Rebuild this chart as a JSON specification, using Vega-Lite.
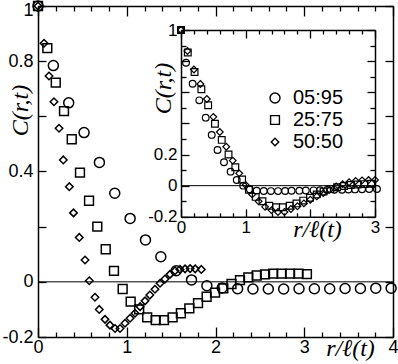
{
  "$schema": "https://vega.github.io/schema/vega-lite/v6.json",
  "width": 355,
  "height": 331,
  "autosize": {"type": "none"},
  "padding": {"left": 38, "top": 6, "right": 5, "bottom": 27},
  "background": "white",
  "config": {"view": {"stroke": null}, "axis": {"grid": false, "labelFlush": false, "labelOverlap": false, "domainColor": "black", "tickColor": "black", "labelColor": "black", "titleColor": "black", "domainWidth": 1.5, "tickWidth": 1.3, "labelFont": "Liberation Sans", "titleFont": "Liberation Serif", "titleFontStyle": "italic", "titleFontWeight": "normal"}},
  "datasets": {
    "main": [
      {"series": "05:95", "x": 0, "y": 1},
      {"series": "05:95", "x": 0.173, "y": 0.784},
      {"series": "05:95", "x": 0.346, "y": 0.649},
      {"series": "05:95", "x": 0.519, "y": 0.541},
      {"series": "05:95", "x": 0.692, "y": 0.433},
      {"series": "05:95", "x": 0.865, "y": 0.321},
      {"series": "05:95", "x": 1.038, "y": 0.23},
      {"series": "05:95", "x": 1.211, "y": 0.152},
      {"series": "05:95", "x": 1.384, "y": 0.091},
      {"series": "05:95", "x": 1.557, "y": 0.04},
      {"series": "05:95", "x": 1.73, "y": 0.007},
      {"series": "05:95", "x": 1.903, "y": -0.014},
      {"series": "05:95", "x": 2.076, "y": -0.022},
      {"series": "05:95", "x": 2.249, "y": -0.025},
      {"series": "05:95", "x": 2.422, "y": -0.026},
      {"series": "05:95", "x": 2.595, "y": -0.026},
      {"series": "05:95", "x": 2.768, "y": -0.026},
      {"series": "05:95", "x": 2.941, "y": -0.025},
      {"series": "05:95", "x": 3.114, "y": -0.025},
      {"series": "05:95", "x": 3.287, "y": -0.025},
      {"series": "05:95", "x": 3.46, "y": -0.024},
      {"series": "05:95", "x": 3.633, "y": -0.024},
      {"series": "05:95", "x": 3.806, "y": -0.023},
      {"series": "05:95", "x": 3.979, "y": -0.023},
      {"series": "25:75", "x": 0, "y": 1},
      {"series": "25:75", "x": 0.105, "y": 0.847},
      {"series": "25:75", "x": 0.2, "y": 0.722},
      {"series": "25:75", "x": 0.293, "y": 0.619},
      {"series": "25:75", "x": 0.38, "y": 0.517},
      {"series": "25:75", "x": 0.473, "y": 0.396},
      {"series": "25:75", "x": 0.575, "y": 0.294},
      {"series": "25:75", "x": 0.668, "y": 0.2},
      {"series": "25:75", "x": 0.763, "y": 0.118},
      {"series": "25:75", "x": 0.856, "y": 0.04},
      {"series": "25:75", "x": 0.954, "y": -0.026},
      {"series": "25:75", "x": 1.044, "y": -0.072},
      {"series": "25:75", "x": 1.14, "y": -0.1},
      {"series": "25:75", "x": 1.23, "y": -0.129},
      {"series": "25:75", "x": 1.326, "y": -0.139},
      {"series": "25:75", "x": 1.42, "y": -0.139},
      {"series": "25:75", "x": 1.517, "y": -0.129},
      {"series": "25:75", "x": 1.61, "y": -0.114},
      {"series": "25:75", "x": 1.705, "y": -0.096},
      {"series": "25:75", "x": 1.803, "y": -0.077},
      {"series": "25:75", "x": 1.9, "y": -0.054},
      {"series": "25:75", "x": 1.995, "y": -0.039},
      {"series": "25:75", "x": 2.088, "y": -0.024},
      {"series": "25:75", "x": 2.18, "y": -0.008},
      {"series": "25:75", "x": 2.276, "y": 0.006},
      {"series": "25:75", "x": 2.37, "y": 0.016},
      {"series": "25:75", "x": 2.464, "y": 0.023},
      {"series": "25:75", "x": 2.558, "y": 0.027},
      {"series": "25:75", "x": 2.65, "y": 0.03},
      {"series": "25:75", "x": 2.745, "y": 0.03},
      {"series": "25:75", "x": 2.84, "y": 0.03},
      {"series": "25:75", "x": 2.935, "y": 0.03},
      {"series": "25:75", "x": 3.03, "y": 0.028},
      {"series": "50:50", "x": 0, "y": 1},
      {"series": "50:50", "x": 0.068, "y": 0.865},
      {"series": "50:50", "x": 0.124, "y": 0.746},
      {"series": "50:50", "x": 0.18, "y": 0.653},
      {"series": "50:50", "x": 0.237, "y": 0.557},
      {"series": "50:50", "x": 0.285, "y": 0.442},
      {"series": "50:50", "x": 0.353, "y": 0.345},
      {"series": "50:50", "x": 0.4, "y": 0.25},
      {"series": "50:50", "x": 0.465, "y": 0.161},
      {"series": "50:50", "x": 0.53, "y": 0.079},
      {"series": "50:50", "x": 0.578, "y": 0.004},
      {"series": "50:50", "x": 0.642, "y": -0.056},
      {"series": "50:50", "x": 0.69, "y": -0.1},
      {"series": "50:50", "x": 0.755, "y": -0.136},
      {"series": "50:50", "x": 0.811, "y": -0.157},
      {"series": "50:50", "x": 0.868, "y": -0.169},
      {"series": "50:50", "x": 0.924, "y": -0.169},
      {"series": "50:50", "x": 0.98, "y": -0.15},
      {"series": "50:50", "x": 1.037, "y": -0.132},
      {"series": "50:50", "x": 1.093, "y": -0.114},
      {"series": "50:50", "x": 1.15, "y": -0.09},
      {"series": "50:50", "x": 1.206, "y": -0.069},
      {"series": "50:50", "x": 1.26, "y": -0.048},
      {"series": "50:50", "x": 1.318, "y": -0.027},
      {"series": "50:50", "x": 1.375, "y": -0.005},
      {"series": "50:50", "x": 1.43, "y": 0.01},
      {"series": "50:50", "x": 1.487, "y": 0.027},
      {"series": "50:50", "x": 1.544, "y": 0.04},
      {"series": "50:50", "x": 1.6, "y": 0.045},
      {"series": "50:50", "x": 1.657, "y": 0.047},
      {"series": "50:50", "x": 1.714, "y": 0.048},
      {"series": "50:50", "x": 1.771, "y": 0.047},
      {"series": "50:50", "x": 1.84, "y": 0.045}
    ],
    "inset": [
      {"series": "05:95", "x": 0, "y": 1},
      {"series": "05:95", "x": 0.078, "y": 0.79},
      {"series": "05:95", "x": 0.18, "y": 0.655},
      {"series": "05:95", "x": 0.283, "y": 0.548},
      {"series": "05:95", "x": 0.382, "y": 0.437},
      {"series": "05:95", "x": 0.475, "y": 0.326},
      {"series": "05:95", "x": 0.565, "y": 0.229},
      {"series": "05:95", "x": 0.665, "y": 0.15},
      {"series": "05:95", "x": 0.767, "y": 0.09},
      {"series": "05:95", "x": 0.862, "y": 0.036},
      {"series": "05:95", "x": 0.962, "y": 0.0},
      {"series": "05:95", "x": 1.065, "y": -0.024},
      {"series": "05:95", "x": 1.17, "y": -0.032},
      {"series": "05:95", "x": 1.28, "y": -0.034},
      {"series": "05:95", "x": 1.39, "y": -0.035},
      {"series": "05:95", "x": 1.5, "y": -0.035},
      {"series": "05:95", "x": 1.61, "y": -0.034},
      {"series": "05:95", "x": 1.71, "y": -0.033},
      {"series": "05:95", "x": 1.83, "y": -0.032},
      {"series": "05:95", "x": 1.93, "y": -0.031},
      {"series": "05:95", "x": 2.05, "y": -0.03},
      {"series": "05:95", "x": 2.15, "y": -0.029},
      {"series": "05:95", "x": 2.26, "y": -0.028},
      {"series": "05:95", "x": 2.37, "y": -0.027},
      {"series": "05:95", "x": 2.49, "y": -0.026},
      {"series": "05:95", "x": 2.59, "y": -0.025},
      {"series": "05:95", "x": 2.69, "y": -0.024},
      {"series": "05:95", "x": 2.8, "y": -0.023},
      {"series": "05:95", "x": 2.91, "y": -0.022},
      {"series": "05:95", "x": 3.03, "y": -0.021},
      {"series": "25:75", "x": 0, "y": 1},
      {"series": "25:75", "x": 0.105, "y": 0.855},
      {"series": "25:75", "x": 0.21, "y": 0.73},
      {"series": "25:75", "x": 0.315, "y": 0.619},
      {"series": "25:75", "x": 0.42, "y": 0.517},
      {"series": "25:75", "x": 0.525, "y": 0.398},
      {"series": "25:75", "x": 0.63, "y": 0.294},
      {"series": "25:75", "x": 0.735, "y": 0.2},
      {"series": "25:75", "x": 0.84, "y": 0.118},
      {"series": "25:75", "x": 0.945, "y": 0.04},
      {"series": "25:75", "x": 1.05, "y": -0.026},
      {"series": "25:75", "x": 1.155, "y": -0.072},
      {"series": "25:75", "x": 1.26, "y": -0.1},
      {"series": "25:75", "x": 1.365, "y": -0.129},
      {"series": "25:75", "x": 1.47, "y": -0.139},
      {"series": "25:75", "x": 1.575, "y": -0.139},
      {"series": "25:75", "x": 1.68, "y": -0.129},
      {"series": "25:75", "x": 1.785, "y": -0.114},
      {"series": "25:75", "x": 1.89, "y": -0.096},
      {"series": "25:75", "x": 1.995, "y": -0.078},
      {"series": "25:75", "x": 2.1, "y": -0.056},
      {"series": "25:75", "x": 2.205, "y": -0.038},
      {"series": "25:75", "x": 2.31, "y": -0.022},
      {"series": "25:75", "x": 2.415, "y": -0.01},
      {"series": "25:75", "x": 2.52, "y": -0.002},
      {"series": "25:75", "x": 2.625, "y": 0.004},
      {"series": "25:75", "x": 2.73, "y": 0.008},
      {"series": "25:75", "x": 2.835, "y": 0.01},
      {"series": "25:75", "x": 2.94, "y": 0.012},
      {"series": "50:50", "x": 0, "y": 1},
      {"series": "50:50", "x": 0.1, "y": 0.865},
      {"series": "50:50", "x": 0.2, "y": 0.746},
      {"series": "50:50", "x": 0.3, "y": 0.653},
      {"series": "50:50", "x": 0.4, "y": 0.557},
      {"series": "50:50", "x": 0.5, "y": 0.442},
      {"series": "50:50", "x": 0.6, "y": 0.345},
      {"series": "50:50", "x": 0.7, "y": 0.25},
      {"series": "50:50", "x": 0.8, "y": 0.161},
      {"series": "50:50", "x": 0.9, "y": 0.079},
      {"series": "50:50", "x": 1.0, "y": 0.004},
      {"series": "50:50", "x": 1.1, "y": -0.056},
      {"series": "50:50", "x": 1.2, "y": -0.1},
      {"series": "50:50", "x": 1.3, "y": -0.136},
      {"series": "50:50", "x": 1.4, "y": -0.157},
      {"series": "50:50", "x": 1.5, "y": -0.169},
      {"series": "50:50", "x": 1.6, "y": -0.169},
      {"series": "50:50", "x": 1.7, "y": -0.15},
      {"series": "50:50", "x": 1.8, "y": -0.132},
      {"series": "50:50", "x": 1.9, "y": -0.114},
      {"series": "50:50", "x": 2.0, "y": -0.09},
      {"series": "50:50", "x": 2.1, "y": -0.069},
      {"series": "50:50", "x": 2.2, "y": -0.048},
      {"series": "50:50", "x": 2.3, "y": -0.027},
      {"series": "50:50", "x": 2.4, "y": -0.005},
      {"series": "50:50", "x": 2.5, "y": 0.01},
      {"series": "50:50", "x": 2.6, "y": 0.022},
      {"series": "50:50", "x": 2.7, "y": 0.03},
      {"series": "50:50", "x": 2.8, "y": 0.034},
      {"series": "50:50", "x": 2.9, "y": 0.036},
      {"series": "50:50", "x": 3.0, "y": 0.037}
    ],
    "mainzero": [{"x0": 0, "x1": 4, "y": 0}],
    "insetzero": [{"x0": 0, "x1": 3, "y": 0}]
  },
  "resolve": {"scale": {"x": "independent", "y": "independent"}},
  "layer": [
    {
      "data": {"name": "main"},
      "mark": {"type": "point", "filled": false, "color": "black", "strokeWidth": 1.5, "opacity": 1},
      "encoding": {
        "x": {"field": "x", "type": "quantitative", "scale": {"domain": [0, 4], "nice": false, "zero": false},
          "axis": {"orient": "bottom", "values": [0, 0.2, 0.4, 0.6, 0.8, 1, 1.2, 1.4, 1.6, 1.8, 2, 2.2, 2.4, 2.6, 2.8, 3, 3.2, 3.4, 3.6, 3.8, 4],
            "labelExpr": "datum.value % 1 == 0 ? '' + datum.value : ''",
            "tickSize": {"condition": {"test": "datum.value % 1 == 0", "value": -10}, "value": -5},
            "labelPadding": 11, "labelFontSize": 18,
            "title": "r/ℓ(t)", "titleFontSize": 24, "titleX": 312, "titleY": 11, "titleAlign": "center", "titleBaseline": "middle", "titleAngle": 0}},
        "y": {"field": "y", "type": "quantitative", "scale": {"domain": [-0.2, 1], "nice": false, "zero": false},
          "axis": {"orient": "left", "values": [-0.2, 0, 0.2, 0.4, 0.6, 0.8, 1],
            "labelExpr": "(datum.value == 1 || datum.value == 0.8 || datum.value == 0.4 || datum.value == 0 || datum.value == -0.2) ? '' + datum.value : ''",
            "labelOffset": {"condition": {"test": "datum.value == 1", "value": 4}, "value": 0},
            "tickSize": -8, "labelPadding": 13, "labelFontSize": 18,
            "title": "C(r,t)", "titleFontSize": 24, "titleX": -18, "titleY": 104, "titleAlign": "center", "titleBaseline": "middle", "titleAngle": 270}},
        "shape": {"field": "series", "type": "nominal", "scale": {"domain": ["05:95", "25:75", "50:50"], "range": ["circle", "square", "diamond"]},
          "legend": {"orient": "none", "legendX": 227, "legendY": 82, "title": null, "padding": 0, "labelFontSize": 20, "labelFont": "Liberation Sans", "labelColor": "black", "symbolStrokeWidth": 1.4, "symbolStrokeColor": "black", "symbolFillColor": "transparent", "labelOffset": 8, "rowPadding": 2}},
        "size": {"field": "series", "type": "nominal", "scale": {"domain": ["05:95", "25:75", "50:50"], "range": [100, 56, 90]},
          "legend": {"orient": "none", "legendX": 227, "legendY": 82, "title": null, "padding": 0, "labelFontSize": 20, "labelFont": "Liberation Sans", "labelColor": "black", "symbolStrokeWidth": 1.4, "symbolStrokeColor": "black", "symbolFillColor": "transparent", "labelOffset": 8, "rowPadding": 2}}
      }
    },
    {
      "data": {"name": "mainzero"},
      "mark": {"type": "rule", "color": "black", "strokeWidth": 1},
      "encoding": {
        "x": {"field": "x0", "type": "quantitative", "scale": {"domain": [0, 4], "nice": false, "zero": false},
          "axis": {"orient": "top", "values": [0, 0.2, 0.4, 0.6, 0.8, 1, 1.2, 1.4, 1.6, 1.8, 2, 2.2, 2.4, 2.6, 2.8, 3, 3.2, 3.4, 3.6, 3.8, 4],
            "labels": false, "title": null,
            "tickSize": {"condition": {"test": "datum.value % 1 == 0", "value": -10}, "value": -5}}},
        "x2": {"field": "x1"},
        "y": {"field": "y", "type": "quantitative", "scale": {"domain": [-0.2, 1], "nice": false, "zero": false},
          "axis": {"orient": "right", "values": [-0.2, 0, 0.2, 0.4, 0.6, 0.8, 1], "labels": false, "title": null, "tickSize": -8}}
      }
    },
    {
      "data": {"name": "insetzero"},
      "mark": {"type": "rule", "color": "black", "strokeWidth": 1},
      "encoding": {
        "x": {"field": "x0", "type": "quantitative", "scale": {"domain": [0, 3], "range": [143, 337], "nice": false, "zero": false},
          "axis": {"orient": "bottom", "offset": -120.2, "zindex": 1, "values": [0, 0.2, 0.4, 0.6, 0.8, 1, 1.2, 1.4, 1.6, 1.8, 2, 2.2, 2.4, 2.6, 2.8, 3],
            "labelExpr": "(datum.value == 0 || datum.value == 1 || datum.value == 3) ? '' + datum.value : ''",
            "tickSize": {"condition": {"test": "datum.value % 1 == 0", "value": -8}, "value": -4},
            "labelPadding": 11, "labelFontSize": 17,
            "title": "r/ℓ(t)", "titleFontSize": 24, "titleX": 279, "titleY": 13, "titleAlign": "center", "titleBaseline": "middle", "titleAngle": 0}},
        "x2": {"field": "x1"},
        "y": {"field": "y", "type": "quantitative", "scale": {"domain": [-0.2, 1], "range": [210.8, 24], "nice": false, "zero": false},
          "axis": {"orient": "left", "offset": -143, "zindex": 1, "values": [-0.2, -0.1, 0, 0.1, 0.2, 0.3, 0.4, 0.5, 0.6, 0.7, 0.8, 0.9, 1],
            "labelExpr": "(datum.value == 1 || datum.value == 0.2 || datum.value == 0 || datum.value == -0.2) ? '' + datum.value : ''",
            "tickSize": {"condition": {"test": "abs(datum.value * 5 - round(datum.value * 5)) < 0.001", "value": -8}, "value": -5},
            "labelPadding": 12, "labelFontSize": 17,
            "title": "C(r,t)", "titleFontSize": 24, "titleX": -18, "titleY": 82, "titleAlign": "center", "titleBaseline": "middle", "titleAngle": 270}}
      }
    },
    {
      "data": {"name": "inset"},
      "mark": {"type": "point", "filled": false, "color": "black", "strokeWidth": 1.2, "size": 45, "opacity": 1},
      "encoding": {
        "x": {"field": "x", "type": "quantitative", "scale": {"domain": [0, 3], "range": [143, 337], "nice": false, "zero": false},
          "axis": {"orient": "top", "offset": -24, "zindex": 1, "values": [0, 0.2, 0.4, 0.6, 0.8, 1, 1.2, 1.4, 1.6, 1.8, 2, 2.2, 2.4, 2.6, 2.8, 3],
            "labels": false, "title": null,
            "tickSize": {"condition": {"test": "datum.value % 1 == 0", "value": -8}, "value": -4}}},
        "y": {"field": "y", "type": "quantitative", "scale": {"domain": [-0.2, 1], "range": [210.8, 24], "nice": false, "zero": false},
          "axis": {"orient": "right", "offset": -18, "zindex": 1, "values": [-0.2, -0.1, 0, 0.1, 0.2, 0.3, 0.4, 0.5, 0.6, 0.7, 0.8, 0.9, 1],
            "labels": false, "title": null,
            "tickSize": {"condition": {"test": "abs(datum.value * 5 - round(datum.value * 5)) < 0.001", "value": -8}, "value": -5}}},
        "shape": {"field": "series", "type": "nominal", "scale": {"domain": ["05:95", "25:75", "50:50"], "range": ["circle", "square", "diamond"]},
          "legend": {"orient": "none", "legendX": 227, "legendY": 82, "title": null, "padding": 0, "labelFontSize": 20, "labelFont": "Liberation Sans", "labelColor": "black", "symbolStrokeWidth": 1.4, "symbolStrokeColor": "black", "symbolFillColor": "transparent", "labelOffset": 8, "rowPadding": 2}}
      }
    }
  ]
}
